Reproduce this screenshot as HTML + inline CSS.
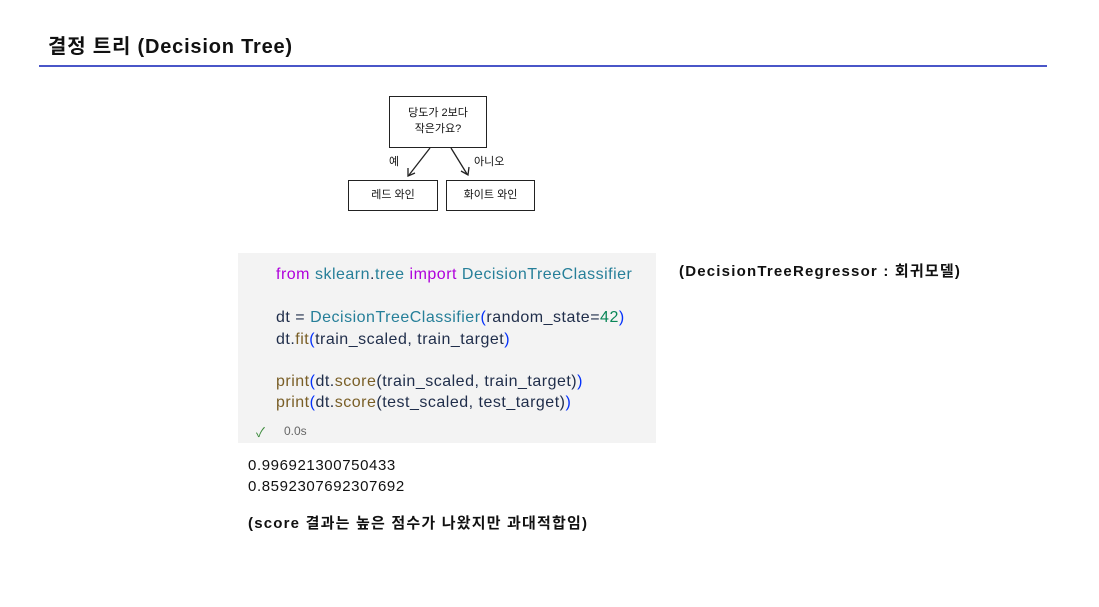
<!DOCTYPE html>
<html><head><meta charset="utf-8"><style>
body{margin:0;width:1099px;height:607px;background:#fff;position:relative;overflow:hidden;font-family:"Liberation Sans","Noto Sans CJK KR",sans-serif;color:#111}
.a{position:absolute;white-space:nowrap}
.code{position:absolute;left:238px;top:253px;width:418px;height:190px;background:#f3f3f3}
.c{position:absolute;left:38px;font-size:16px;letter-spacing:0.5px;color:#1f2d4a}
.k{color:#af00db}.t{color:#267f99}.f{color:#795e26}.n{color:#098658}.p{color:#0431fa}
.box{position:absolute;border:1.5px solid #222;background:#fff;font-size:11px;text-align:center;font-family:"Liberation Sans","Noto Sans CJK KR",sans-serif}
</style></head><body>
<div class="a" style="left:48px;top:30px;font-size:20px;letter-spacing:0.8px;font-weight:bold">결정 트리 (Decision Tree)</div>
<div class="a" style="left:39px;top:65px;width:1008px;height:2px;background:#4a56c8"></div>

<div class="box" style="left:389px;top:96px;width:96px;height:50px;line-height:16px;padding-top:0"><div style="margin-top:8px">당도가 2보다<br>작은가요?</div></div>
<div class="box" style="left:348px;top:180px;width:88px;height:29px;line-height:29px">레드 와인</div>
<div class="box" style="left:446px;top:180px;width:87px;height:29px;line-height:29px">화이트 와인</div>
<div class="a" style="left:389px;top:153px;font-size:11px">예</div>
<div class="a" style="left:474px;top:153px;font-size:11px">아니오</div>
<svg class="a" style="left:0;top:0" width="1099" height="607">
<line x1="430" y1="148" x2="409" y2="175" stroke="#222" stroke-width="1.3"/>
<polyline points="408,168 408,176 415,173" fill="none" stroke="#222" stroke-width="1.3"/>
<line x1="451" y1="148" x2="467" y2="174" stroke="#222" stroke-width="1.3"/>
<polyline points="461,171 468,175 469,167" fill="none" stroke="#222" stroke-width="1.3"/>
</svg>

<div class="code">
<div class="c" style="top:13px"><span class="k">from</span> <span class="t">sklearn</span>.<span class="t">tree</span> <span class="k">import</span> <span class="t">DecisionTreeClassifier</span></div>
<div class="c" style="top:56px">dt = <span class="t">DecisionTreeClassifier</span><span class="p">(</span>random_state=<span class="n">42</span><span class="p">)</span></div>
<div class="c" style="top:78px">dt.<span class="f">fit</span><span class="p">(</span>train_scaled, train_target<span class="p">)</span></div>
<div class="c" style="top:120px"><span class="f">print</span><span class="p">(</span>dt.<span class="f">score</span>(train_scaled, train_target)<span class="p">)</span></div>
<div class="c" style="top:141px"><span class="f">print</span><span class="p">(</span>dt.<span class="f">score</span>(test_scaled, test_target)<span class="p">)</span></div>
<div class="a" style="left:18px;top:169px;font-size:13px;color:#3a8a3a">✓</div>
<div class="a" style="left:46px;top:171px;font-size:12px;color:#666">0.0s</div>
</div>

<div class="a" style="left:248px;top:455px;font-size:15px;letter-spacing:0.6px;line-height:21px">0.996921300750433<br>0.8592307692307692</div>
<div class="a" style="left:248px;top:512px;font-size:15px;letter-spacing:1.2px;font-weight:bold">(score 결과는 높은 점수가 나왔지만 과대적합임)</div>
<div class="a" style="left:679px;top:260px;font-size:15px;letter-spacing:1.2px;font-weight:bold">(DecisionTreeRegressor : 회귀모델)</div>
</body></html>
